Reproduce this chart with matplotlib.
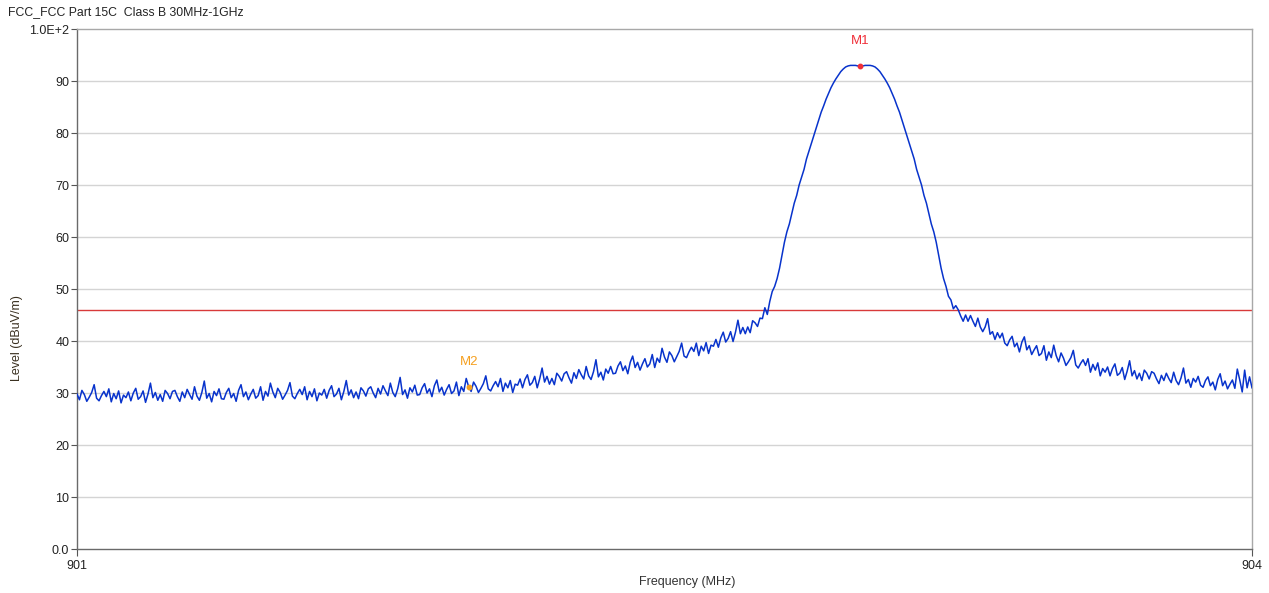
import numpy as np
import matplotlib
matplotlib.use("Agg")
import matplotlib.pyplot as plt

plt.rcParams['font.family'] = ['Liberation Sans', 'DejaVu Sans']

# Sweep range (MHz) and measured trace levels (dBuV/m), evenly spaced points
freq_start = 901.0
freq_stop = 904.0
levels = [
    29.8, 28.7, 30.5, 29.7, 28.4, 29.2, 30.1, 31.6, 29.0, 28.5, 29.5, 30.3, 29.3, 30.8, 28.3, 29.9, 28.9, 30.4, 28.1, 29.6,
    29.1, 30.2, 28.5, 30.0, 30.9, 28.8, 29.3, 30.4, 28.2, 29.8, 31.9, 29.1, 30.1, 28.6, 29.7, 28.4, 30.5, 29.9, 28.9, 30.3,
    30.5, 29.3, 28.4, 30.2, 29.1, 30.7, 29.7, 28.8, 31.2, 29.4, 28.6, 30.1, 32.3, 29.0, 29.9, 28.3, 30.3, 29.5, 30.8, 28.9,
    28.8, 30.1, 30.9, 29.1, 29.9, 28.4, 30.5, 31.6, 29.3, 30.2, 28.7, 29.8, 30.7, 29.0, 29.5, 31.2, 28.6, 30.3, 29.4, 31.9,
    30.2, 29.1, 30.9, 30.1, 28.8, 29.6, 30.5, 32.0, 29.4, 28.9, 29.9, 30.7, 29.7, 31.2, 28.7, 30.3, 29.3, 30.8, 28.5, 30.0,
    29.6, 30.7, 29.0, 30.5, 31.4, 29.3, 29.8, 30.9, 28.7, 30.3, 32.4, 29.6, 30.6, 29.1, 30.2, 28.9, 31.0, 30.4, 29.4, 30.8,
    31.2, 30.0, 29.1, 30.9, 29.8, 31.4, 30.4, 29.5, 31.9, 30.1, 29.3, 30.8, 33.0, 29.7, 30.6, 29.0, 31.0, 30.2, 31.5, 29.6,
    29.7, 31.0, 31.8, 30.0, 30.8, 29.3, 31.4, 32.5, 30.2, 31.1, 29.6, 30.7, 31.6, 29.9, 30.4, 32.1, 29.5, 31.2, 30.3, 32.8,
    31.2, 30.3, 32.1, 31.3, 30.1, 30.9, 31.8, 33.3, 30.8, 30.4, 31.4, 32.2, 31.2, 32.8, 30.3, 31.9, 31.0, 32.4, 30.1, 31.7,
    31.5, 32.7, 31.0, 32.6, 33.5, 31.5, 32.0, 33.2, 31.0, 32.7, 34.8, 32.1, 33.2, 31.7, 32.8, 31.6, 33.8, 33.2, 32.3, 33.7,
    34.1, 32.9, 31.9, 33.9, 32.8, 34.5, 33.5, 32.7, 35.1, 33.3, 32.6, 34.1, 36.4, 33.1, 34.0, 32.5, 34.6, 33.8, 35.1, 33.7,
    33.8, 35.2, 36.0, 34.3, 35.2, 33.7, 35.9, 37.1, 34.9, 35.9, 34.4, 35.6, 36.6, 35.0, 35.6, 37.4, 34.9, 36.7, 35.9, 38.6,
    36.9, 35.9, 37.9, 37.2, 36.0, 37.0, 38.0, 39.6, 37.1, 36.8, 37.9, 38.8, 38.0, 39.6, 37.2, 39.0, 38.1, 39.7, 37.6, 39.2,
    39.0, 40.3, 38.8, 40.6, 41.7, 39.8, 40.5, 41.8, 39.9, 41.7, 44.0, 41.4, 42.6, 41.4, 42.7, 41.6, 43.9, 43.5, 42.8, 44.4,
    44.3, 46.4, 45.1, 47.6, 49.5, 50.5, 52.0, 54.0, 56.5, 59.0, 61.0, 62.5, 64.5, 66.5, 68.0, 70.0, 71.5, 73.0, 75.0, 76.5,
    78.0, 79.5, 81.0, 82.5, 84.0, 85.2, 86.5, 87.6, 88.7, 89.6, 90.4, 91.1, 91.8, 92.3, 92.7, 92.9, 93.0, 93.0, 93.0, 92.9,
    92.9, 92.9, 93.0, 93.0, 93.0, 92.9, 92.7, 92.3, 91.8, 91.1, 90.4, 89.6, 88.7, 87.6, 86.5, 85.2, 84.0, 82.5, 81.0, 79.5,
    78.0, 76.5, 75.0, 73.0, 71.5, 70.0, 68.0, 66.5, 64.5, 62.5, 61.0, 59.0, 56.5, 54.0, 52.0, 50.5, 48.6, 47.9, 46.2, 46.8,
    46.0, 44.8, 43.8, 45.0, 43.8, 44.9, 43.8, 42.8, 44.4, 42.7, 41.8, 42.7, 44.3, 41.3, 41.8, 40.3, 41.6, 40.6, 41.5, 39.6,
    39.1, 40.2, 40.9, 38.9, 39.6, 37.9, 39.8, 40.8, 38.3, 39.1, 37.4, 38.3, 39.1, 37.2, 37.6, 39.1, 36.3, 37.9, 36.8, 39.2,
    37.2, 36.0, 37.7, 36.7, 35.3, 36.0, 36.8, 38.2, 35.4, 34.8, 35.7, 36.4, 35.3, 36.6, 34.0, 35.5, 34.4, 35.8, 33.3, 34.7,
    34.0, 35.0, 33.3, 34.7, 35.6, 33.4, 33.8, 34.9, 32.6, 34.2, 36.2, 33.3, 34.3, 32.7, 33.8, 32.4, 34.4, 33.8, 32.7, 34.1,
    33.8, 32.7, 31.8, 33.4, 32.4, 33.8, 32.8, 32.0, 34.0, 32.4, 31.6, 32.9, 34.8, 31.9, 32.6, 31.1, 32.8, 32.1, 33.2, 31.5,
    31.1, 32.4, 33.1, 31.4, 32.1, 30.6, 32.6, 33.7, 31.4, 32.3, 30.8, 31.7, 32.5, 30.9, 34.6, 32.5, 30.2, 34.4, 31.0, 33.1,
    31.0,
]

# Limit line and markers
limit_level = 46.0
marker_names = ["M1", "M2"]
marker_freqs = [903.0, 902.0]
marker_levels = [92.9, 31.2]
marker_colors = ["#f0303a", "#f5a020"]

y_ticks = [0, 10, 20, 30, 40, 50, 60, 70, 80, 90, 100]
y_tick_labels = ["0.0", "10", "20", "30", "40", "50", "60", "70", "80", "90", "1.0E+2"]
x_ticks = [901, 904]
x_tick_labels = ["901", "904"]

title = "FCC_FCC Part 15C  Class B 30MHz-1GHz"
x_label = "Frequency (MHz)"
y_label = "Level (dBuV/m)"

W, H = 1269, 593
fig = plt.figure(figsize=(W / 100, H / 100), dpi=100)
ax = fig.add_axes([77 / W, (H - 549) / H, 1175 / W, 520 / H])

freqs = np.linspace(freq_start, freq_stop, len(levels))

ax.set_xlim(freq_start, freq_stop)
ax.set_ylim(0, 100)

# horizontal grid only
for y in y_ticks[1:-1]:
    ax.axhline(y, color="#d4d4d4", lw=1.0, zorder=1)

ax.axhline(limit_level, color="#d83a3a", lw=1.0, zorder=2)
ax.plot(freqs, levels, color="#0833cc", lw=1.1, zorder=3)

for name, f, lv, c in zip(marker_names, marker_freqs, marker_levels, marker_colors):
    ax.plot([f], [lv], "o", ms=3.2, color=c, zorder=4)
    ax.annotate(name, (f, lv), xytext=(0, 18), textcoords="offset points",
                ha="center", va="center", color=c, fontsize=9.5)

ax.set_yticks(y_ticks)
ax.set_yticklabels(y_tick_labels)
ax.set_xticks(x_ticks)
ax.set_xticklabels(x_tick_labels)
ax.tick_params(axis="y", length=4, width=0.8, color="#555555", pad=1.5,
               labelsize=9, labelcolor="#222222")
ax.tick_params(axis="x", length=5, width=0.8, color="#555555", pad=3,
               labelsize=9, labelcolor="#222222")

for side in ("left", "bottom"):
    ax.spines[side].set_color("#6a6a6a")
    ax.spines[side].set_linewidth(1.0)
for side in ("top", "right"):
    ax.spines[side].set_color("#a8a8a8")
    ax.spines[side].set_linewidth(1.0)

fig.text(8 / W, 1 - 12 / H, title, ha="left", va="center", fontsize=8.8, color="#222222")
fig.text(687 / W, 1 - 582 / H, x_label, ha="center", va="center", fontsize=9, color="#333333")
fig.text(17 / W, 1 - 338 / H, y_label, ha="center", va="center", rotation=90,
         fontsize=9, color="#3a3020")

fig.savefig("out.png", dpi=100)
